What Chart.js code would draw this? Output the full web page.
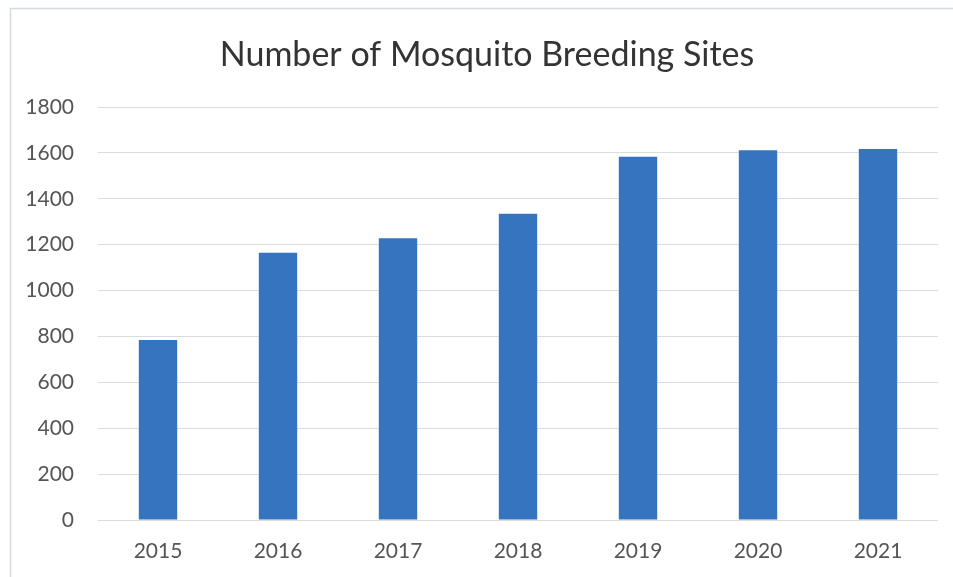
<!DOCTYPE html>
<html>
<head>
<meta charset="utf-8">
<title>Number of Mosquito Breeding Sites</title>
<script src="https://cdn.jsdelivr.net/npm/chart.js@4"></script>
<style>
  html, body { margin: 0; padding: 0; background: #fff; }
  #wrap { width: 953px; height: 577px; position: relative; }
</style>
</head>
<body>
<div id="wrap"><canvas id="chart"></canvas></div>
<script>
// yearly counts
const years = ['2015', '2016', '2017', '2018', '2019', '2020', '2021'];
const sites = [785, 1165, 1228, 1335, 1583, 1611, 1617];
const yTicks = [0, 200, 400, 600, 800, 1000, 1200, 1400, 1600, 1800];
const titleText = 'Number of Mosquito Breeding Sites';

const TEXT = '#555555';
const GRID = '#d9dde0';
const BAR = '#3674bf';

// faint frame along the top and left edge, plus the heading
const frame = {
  id: 'frame',
  beforeDraw(chart) {
    const c = chart.ctx;
    c.save();
    c.strokeStyle = '#d3dbe0';
    c.lineWidth = 1.5;
    c.beginPath();
    c.moveTo(10.5, 577);
    c.lineTo(10.5, 8.5);
    c.lineTo(953, 8.5);
    c.stroke();
    c.fillStyle = '#333333';
    c.font = '34px Lato';
    c.textAlign = 'center';
    c.textBaseline = 'middle';
    c.fillText(titleText, 487, 55);
    c.restore();
  }
};

new Chart(document.getElementById('chart').getContext('2d'), {
  type: 'bar',
  data: {
    labels: years,
    datasets: [{
      label: 'Breeding sites',
      data: sites,
      backgroundColor: BAR,
      borderWidth: 0,
      barPercentage: 0.32,
      categoryPercentage: 1,
    }],
  },
  options: {
    responsive: true,
    maintainAspectRatio: false,
    animation: false,
    layout: {padding: {left: 14, right: 15, top: 107, bottom: 0}},
    plugins: {
      legend: {display: false},
      tooltip: {enabled: false},
      title: {display: false},
    },
    scales: {
      x: {
        grid: {display: false, drawTicks: false},
        border: {display: false},
        ticks: {color: TEXT, font: {family: 'Lato', size: 21}, padding: 19},
        afterFit: a => { a.height = 57; },
      },
      y: {
        min: 0,
        max: 1800,
        afterBuildTicks: a => { a.ticks = yTicks.map(v => ({value: v})); },
        grid: {color: GRID, lineWidth: 1, drawTicks: false},
        border: {display: false},
        ticks: {color: TEXT, font: {family: 'Lato', size: 21}, padding: 24, callback: v => String(v)},
        afterFit: a => { a.width = 84; },
      },
    },
  },
  plugins: [frame],
});
</script>
</body>
</html>
